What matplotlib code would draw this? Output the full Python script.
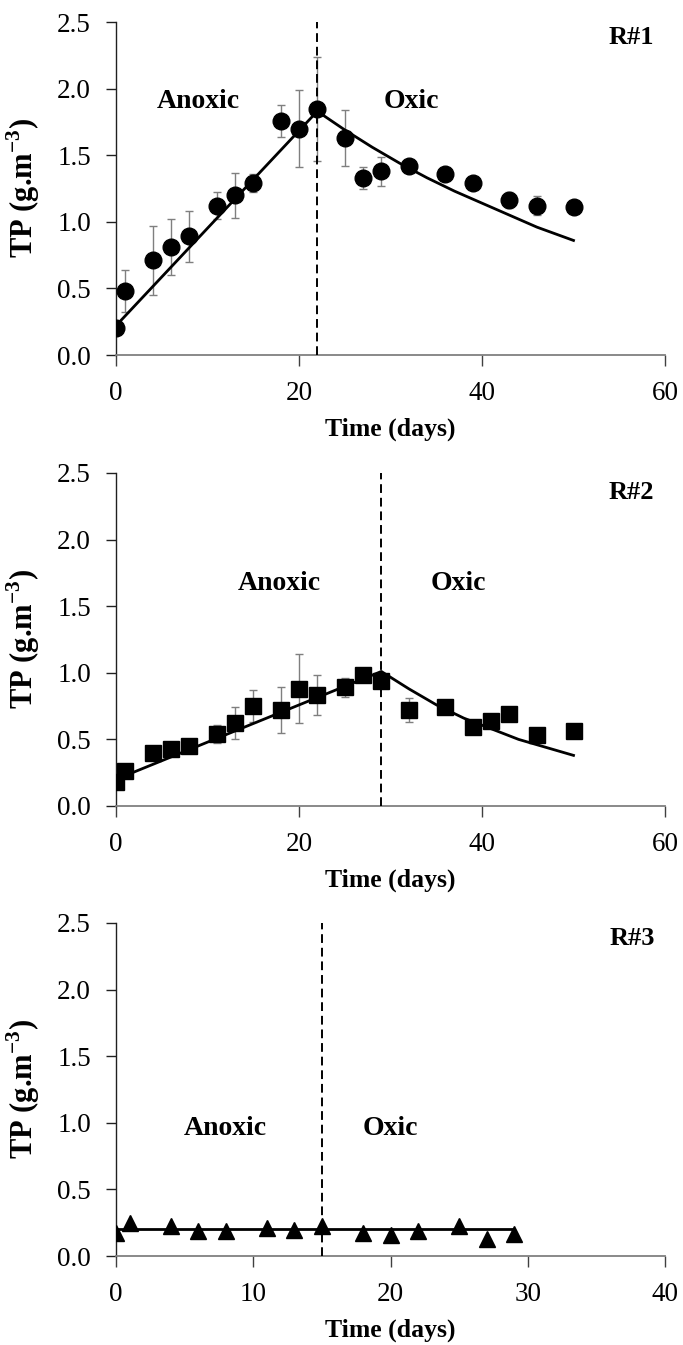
import matplotlib
matplotlib.use("Agg")
import matplotlib.pyplot as plt

plt.rcParams['font.family'] = ['Liberation Serif', 'DejaVu Serif']
plt.rcParams['mathtext.fontset'] = 'custom'
plt.rcParams['mathtext.rm'] = 'Liberation Serif'
plt.rcParams['mathtext.bf'] = 'Liberation Serif:bold'

# ---- Reactor R#1 (circles) ----
r1_day = [0, 1, 4, 6, 8, 11, 13, 15, 18, 20, 22, 25, 27, 29, 32, 36, 39, 43, 46, 50]
r1_tp = [0.20, 0.48, 0.71, 0.81, 0.89, 1.12, 1.20, 1.29, 1.76, 1.70, 1.85, 1.63,
         1.33, 1.38, 1.42, 1.36, 1.29, 1.16, 1.12, 1.11]
r1_err = [0.00, 0.16, 0.26, 0.21, 0.19, 0.10, 0.17, 0.07, 0.12, 0.29, 0.39, 0.21,
          0.08, 0.11, 0.02, 0.02, 0.03, 0.06, 0.07, 0.00]
r1_model_day = [0, 22, 25, 28, 31, 34, 37, 40, 43, 46, 50]
r1_model_tp = [0.22, 1.83, 1.69, 1.56, 1.44, 1.33, 1.23, 1.14, 1.05, 0.96, 0.86]
r1_switch = 22

# ---- Reactor R#2 (squares) ----
r2_day = [0, 1, 4, 6, 8, 11, 13, 15, 18, 20, 22, 25, 27, 29, 32, 36, 39, 41, 43, 46, 50]
r2_tp = [0.18, 0.26, 0.40, 0.43, 0.45, 0.54, 0.62, 0.75, 0.72, 0.88, 0.83, 0.89,
         0.98, 0.94, 0.72, 0.74, 0.59, 0.64, 0.69, 0.53, 0.56]
r2_err = [0.00, 0.00, 0.00, 0.00, 0.00, 0.07, 0.12, 0.12, 0.17, 0.26, 0.15, 0.07,
          0.03, 0.03, 0.09, 0.02, 0.02, 0.03, 0.05, 0.02, 0.00]
r2_model_day = [0, 29, 32, 35, 38, 41, 44, 47, 50]
r2_model_tp = [0.20, 1.01, 0.88, 0.76, 0.66, 0.58, 0.50, 0.44, 0.38]
r2_switch = 29

# ---- Reactor R#3 (triangles) ----
r3_day = [0, 1, 4, 6, 8, 11, 13, 15, 18, 20, 22, 25, 27, 29]
r3_tp = [0.17, 0.25, 0.225, 0.19, 0.19, 0.21, 0.195, 0.225, 0.17, 0.16, 0.19,
         0.225, 0.13, 0.165]
r3_model_day = [0, 29]
r3_model_tp = [0.20, 0.20]
r3_switch = 15

y_ticks = [0.0, 0.5, 1.0, 1.5, 2.0, 2.5]

panels = [
    dict(day=r1_day, tp=r1_tp, err=r1_err, mday=r1_model_day, mtp=r1_model_tp,
         switch=r1_switch, marker='o', ms=12, xmax=60, xticks=[0, 20, 40, 60],
         name='R#1', name_pos=(56.3, 2.38), anoxic_pos=(9, 1.9), oxic_pos=(32.3, 1.9),
         rect=[116 / 683, 1 - 355 / 1345, 549 / 683, 333 / 1345]),
    dict(day=r2_day, tp=r2_tp, err=r2_err, mday=r2_model_day, mtp=r2_model_tp,
         switch=r2_switch, marker='s', ms=11.5, xmax=60, xticks=[0, 20, 40, 60],
         name='R#2', name_pos=(56.3, 2.35), anoxic_pos=(17.8, 1.67), oxic_pos=(37.4, 1.67),
         rect=[116 / 683, 1 - 806 / 1345, 549 / 683, 333 / 1345]),
    dict(day=r3_day, tp=r3_tp, err=None, mday=r3_model_day, mtp=r3_model_tp,
         switch=r3_switch, marker='^', ms=12, xmax=40, xticks=[0, 10, 20, 30, 40],
         name='R#3', name_pos=(37.6, 2.38), anoxic_pos=(8, 0.96), oxic_pos=(20, 0.96),
         rect=[116 / 683, 1 - 1256 / 1345, 549 / 683, 333 / 1345]),
]

fig = plt.figure(figsize=(6.83, 13.45), dpi=100)

for p in panels:
    ax = fig.add_axes(p['rect'])
    if p['err'] is not None:
        ax.errorbar(p['day'], p['tp'], yerr=p['err'], fmt='none', ecolor='#7f7f7f',
                    elinewidth=1.0, capsize=3, capthick=1.0, zorder=2)
    ax.plot(p['mday'], p['mtp'], color='black', lw=2.0, zorder=3)
    ax.plot(p['day'], p['tp'], linestyle='none', marker=p['marker'], ms=p['ms'],
            color='black', zorder=4)
    ax.plot([p['switch'], p['switch']], [0, 2.5], color='black', lw=1.4,
            linestyle=(0, (4.5, 2.5)), zorder=5)

    ax.set_xlim(0, p['xmax'])
    ax.set_ylim(0, 2.5)
    ax.set_xticks(p['xticks'])
    ax.set_yticks(y_ticks)
    ax.set_yticklabels([f'{v:.1f}' for v in y_ticks])
    ax.set_xticklabels([str(v) for v in p['xticks']])

    for side in ('top', 'right'):
        ax.spines[side].set_visible(False)
    ax.spines['left'].set_color('#202020')
    ax.spines['bottom'].set_color('#808080')
    ax.spines['left'].set_linewidth(1.0)
    ax.spines['bottom'].set_linewidth(1.3)
    ax.tick_params(axis='y', direction='out', length=7, width=1.0, color='#202020',
                   labelsize=19.5, pad=11)
    ax.tick_params(axis='x', direction='out', length=8, width=1.0, color='#404040',
                   labelsize=19.5, pad=11)

    ax.set_xlabel('Time (days)', fontsize=18.5, fontweight='bold', labelpad=8)
    ax.set_ylabel(r'TP (g.m$^{\mathbf{-3}}$)', fontsize=22, fontweight='bold')
    ax.yaxis.set_label_coords(-0.135, 0.5)

    ax.text(*p['anoxic_pos'], 'Anoxic', fontsize=20, fontweight='bold',
            ha='center', va='center')
    ax.text(*p['oxic_pos'], 'Oxic', fontsize=20, fontweight='bold',
            ha='center', va='center')
    ax.text(*p['name_pos'], p['name'], fontsize=19, fontweight='bold',
            ha='center', va='center')

fig.savefig('out.png', dpi=100)
